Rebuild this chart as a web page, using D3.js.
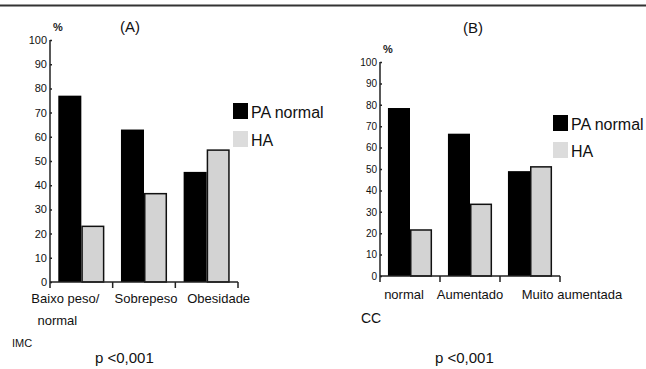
<!DOCTYPE html>
<html>
<head>
<meta charset="utf-8">
<script src="https://cdn.jsdelivr.net/npm/d3@7"></script>
<style>
  body { margin: 0; background: #fff; }
  svg { display: block; font-family: "Liberation Sans", Arial, sans-serif; }
  .tick text { font-family: "Liberation Sans Narrow", "Liberation Sans", sans-serif; }
</style>
</head>
<body>
<div id="chart"></div>
<script>
// data
var seriesNames = ["PA normal", "HA"];
var imcCategories = ["Baixo peso/\nnormal", "Sobrepeso", "Obesidade"];
var imcPaNormal = [77, 63, 45.5];
var imcHa = [23, 36.5, 54.5];
var ccCategories = ["normal", "Aumentado", "Muito aumentada"];
var ccPaNormal = [78.5, 66.5, 49];
var ccHa = [21.5, 33.5, 51];
var yTicks = [0, 10, 20, 30, 40, 50, 60, 70, 80, 90, 100];

var width = 646,
    height = 369;

var colors = ["#000000", "#d3d3d3"];

var svg = d3.select("#chart")
    .append("svg")
    .attr("width", width)
    .attr("height", height);

// top rule
svg.append("line")
    .attr("x1", 0).attr("x2", width)
    .attr("y1", 5.5).attr("y2", 5.5)
    .attr("stroke", "#333")
    .attr("stroke-width", 2);

function drawPanel(p) {
    var x = d3.scaleBand()
        .domain(p.categories)
        .range([p.x0, p.x1]);

    var inner = d3.scaleBand()
        .domain(seriesNames)
        .range([0, x.bandwidth()])
        .paddingOuter(p.outerPad);

    var y = d3.scaleLinear()
        .domain([0, 100])
        .range([p.y0, p.y1]);

    var g = svg.append("g");

    var rows = p.categories.map(function (c, i) {
        return { cat: c, values: [p.paNormal[i], p.ha[i]] };
    });

    var groups = g.selectAll(".grp")
        .data(rows)
        .enter().append("g")
        .attr("transform", function (d) { return "translate(" + x(d.cat) + ",0)"; });

    groups.selectAll("rect")
        .data(function (d) {
            return d.values.map(function (v, j) { return { key: seriesNames[j], value: v, j: j }; });
        })
        .enter().append("rect")
        .attr("x", function (d) { return inner(d.key) + (d.j === 1 ? 0.75 : 0); })
        .attr("y", function (d) { return y(d.value); })
        .attr("width", function (d) { return inner.bandwidth() - (d.j === 1 ? 1.5 : 0); })
        .attr("height", function (d) { return y(0) - y(d.value); })
        .attr("fill", function (d) { return colors[d.j]; })
        .attr("stroke", function (d) { return d.j === 1 ? "#111" : "none"; })
        .attr("stroke-width", 1.5);

    // y axis
    var yAxis = g.append("g")
        .attr("transform", "translate(" + p.x0 + ",0)")
        .call(d3.axisRight(y).tickValues(yTicks).tickSize(2).tickFormat(d3.format("d")));
    yAxis.select(".domain").attr("stroke", "#222").attr("stroke-width", 1.5)
        .attr("d", "M0," + p.y1 + "V" + p.y0);
    yAxis.selectAll(".tick line").attr("stroke", "#222").attr("stroke-width", 1.5);
    yAxis.selectAll(".tick text")
        .attr("x", -3)
        .attr("text-anchor", "end")
        .attr("font-size", p.tickFont)
        .attr("fill", "#111");

    // x axis
    var xAxis = g.append("g")
        .attr("transform", "translate(0," + p.y0 + ")");
    xAxis.append("line")
        .attr("x1", p.x0).attr("x2", p.x1)
        .attr("stroke", "#222").attr("stroke-width", 1.5);
    var edges = p.categories.map(function (c) { return x(c); }).concat([p.x1]);
    xAxis.selectAll(".xt")
        .data(edges)
        .enter().append("line")
        .attr("x1", function (d) { return d; })
        .attr("x2", function (d) { return d; })
        .attr("y1", 0).attr("y2", 6)
        .attr("stroke", "#222").attr("stroke-width", 1.5);

    g.selectAll(".xl")
        .data(p.categories)
        .enter().append("text")
        .attr("font-size", 13)
        .attr("fill", "#111")
        .attr("text-anchor", "middle")
        .each(function (d, i) {
            var lines = d.split("\n");
            var t = d3.select(this);
            lines.forEach(function (ln, k) {
                t.append("tspan")
                    .attr("x", x(d) + x.bandwidth() / 2 + p.labelDx[i][k])
                    .attr("y", p.labelY + k * 22)
                    .text(ln);
            });
        });

    // % sign
    g.append("text")
        .attr("x", p.x0 + 3).attr("y", p.y1 - 9)
        .attr("font-size", 11).attr("font-weight", "bold")
        .attr("fill", "#222")
        .text("%");

    // panel title
    g.append("text")
        .attr("x", p.titleX).attr("y", p.titleY)
        .attr("text-anchor", "middle")
        .attr("font-size", 15)
        .attr("fill", "#111")
        .text(p.title);

    // legend
    var leg = g.append("g")
        .attr("transform", "translate(" + p.legX + "," + p.legY + ")");
    var li = leg.selectAll("g")
        .data(seriesNames)
        .enter().append("g")
        .attr("transform", function (d, i) { return "translate(0," + i * p.legStep + ")"; });
    li.append("rect")
        .attr("width", 15).attr("height", 16)
        .attr("fill", function (d, i) { return i === 0 ? "#000" : "#dcdcdc"; });
    li.append("text")
        .attr("x", 18).attr("y", 15)
        .attr("font-size", 16)
        .attr("fill", "#111")
        .text(function (d) { return d; });

    // axis name & p value
    g.append("text")
        .attr("x", p.nameX).attr("y", p.nameY)
        .attr("font-size", p.nameFont)
        .attr("fill", "#111")
        .text(p.name);

    g.append("text")
        .attr("x", p.pX).attr("y", 363)
        .attr("font-size", 15)
        .attr("fill", "#111")
        .text("p <0,001");
}

drawPanel({
    categories: imcCategories, paNormal: imcPaNormal, ha: imcHa,
    x0: 50, x1: 238, y0: 282, y1: 40, outerPad: 0.36, tickFont: 11,
    labelY: 303, labelDx: [[-16, -24], [2], [12]],
    title: "(A)", titleX: 130, titleY: 32,
    legX: 233, legY: 103, legStep: 28,
    name: "IMC", nameX: 12, nameY: 347, nameFont: 11,
    pX: 95
});

drawPanel({
    categories: ccCategories, paNormal: ccPaNormal, ha: ccHa,
    x0: 380, x1: 560, y0: 276, y1: 62, outerPad: 0.36, tickFont: 10,
    labelY: 299, labelDx: [[-6], [0], [42]],
    title: "(B)", titleX: 473, titleY: 33,
    legX: 553, legY: 115, legStep: 27,
    name: "CC", nameX: 361, nameY: 323, nameFont: 14,
    pX: 435
});
</script>
</body>
</html>
